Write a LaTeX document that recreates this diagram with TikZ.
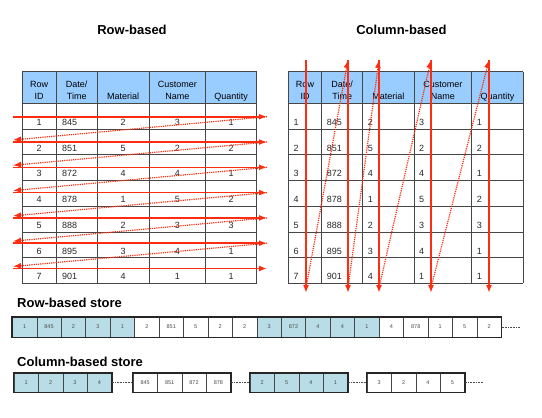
\documentclass[tikz,border=0pt]{standalone}
\usepackage{fontspec}
\setmainfont{Liberation Sans}
\usetikzlibrary{arrows.meta}
\definecolor{hdrblue}{RGB}{153,204,255}
\definecolor{store0}{RGB}{184,221,230}
\definecolor{store1}{RGB}{255,255,255}
\definecolor{arrowred}{RGB}{255,45,15}
\definecolor{linegray}{RGB}{70,70,70}

\begin{document}
\begin{tikzpicture}[x=1pt,y=-1pt,
    ttl/.style    = {font=\fontsize{13}{15}\selectfont\bfseries,anchor=base,inner sep=0},
    storelbl/.style = {font=\fontsize{13}{15}\selectfont\bfseries,anchor=base west,inner sep=0},
    hdr/.style    = {font=\fontsize{9}{12}\selectfont,align=center,anchor=north,inner sep=0,execute at begin node=\strut},
    hdrone/.style = {font=\fontsize{9}{12}\selectfont,anchor=base,inner sep=0},
    val/.style    = {font=\fontsize{9}{11}\selectfont,inner sep=0,text=black!85},
    tabline/.style = {draw=linegray,line width=0.8pt},
    scan/.style   = {draw=arrowred,line width=1.6pt,-{Latex[length=8pt,width=6pt]}},
    jump/.style   = {draw=arrowred,line width=1.2pt,densely dotted,-{Latex[length=8pt,width=6pt]}},
    sbox/.style   = {draw=linegray,line width=0.5pt,minimum width=24.45pt,inner sep=0,font=\fontsize{5.5}{6}\selectfont,text=black!70},
    outline/.style = {draw=black!85,line width=1.5pt},
    tail/.style   = {draw=black!70,line width=0.6pt,densely dotted}
  ]
  \useasboundingbox (0,0) rectangle (542,418);

  \node[ttl] (rowtitle) at (132,34.3) {Row-based};
  \node[ttl] (coltitle) at (401.5,34.3) {Column-based};

  % tables
  \fill[hdrblue] (22.3,71.7) rectangle (256.7,103.3);
  \fill[hdrblue] (288.3,71.7) rectangle (523.3,103.3);
  \foreach \x in {22.3,56,97.3,149,205.7,256.7}
    \draw[tabline] (\x,71.7) -- (\x,283.3);
  \foreach \x in {288.3,321.7,362.7,414,471.7,523.3}
    \draw[tabline] (\x,71.7) -- (\x,283.3);
  \foreach \y in {71.7,103.3,129,154.7,180.4,206.1,231.9,257.6,283.3} {
    \draw[tabline] (22.3,\y) -- (256.7,\y);
    \draw[tabline] (288.3,\y) -- (523.3,\y);
  }

  \foreach \cx/\lbl [count=\i] in {39.2/{Row\\ID}, 76.7/{Date/\\Time}, 177.4/{Customer\\Name}}
    \node[hdr] (rh\i) at (\cx,81.2) {\lbl};
  \foreach \cx/\lbl [count=\i] in {305/{Row\\ID}, 342.2/{Date/\\Time}, 442.9/{Customer\\Name}}
    \node[hdr] (ch\i) at (\cx,81.2) {\lbl};
  \node[hdrone] (rhmat) at (123.2,99.3) {Material};
  \node[hdrone] (rhqty) at (231.2,99.3) {Quantity};
  \node[hdrone] (chmat) at (388.4,99.3) {Material};
  \node[hdrone] (chqty) at (497.5,99.3) {Quantity};

  \foreach \a/\b/\c/\d/\e [count=\r, evaluate=\r as \yb using {125.5+25.7*(\r-1)}] in
      {1/845/2/3/1, 2/851/5/2/2, 3/872/4/4/1, 4/878/1/5/2, 5/888/2/3/3, 6/895/3/4/1, 7/901/4/1/1} {
    \node[val,anchor=base]      (ra\r) at (39.2,\yb)  {\a};
    \node[val,anchor=base west] (rb\r) at (62,\yb)    {\b};
    \node[val,anchor=base]      (rc\r) at (123.2,\yb) {\c};
    \node[val,anchor=base]      (rd\r) at (177.4,\yb) {\d};
    \node[val,anchor=base]      (re\r) at (231.2,\yb) {\e};
    \node[val,anchor=base west] (ca\r) at (293.3,\yb) {\a};
    \node[val,anchor=base west] (cb\r) at (326.7,\yb) {\b};
    \node[val,anchor=base west] (cc\r) at (367.7,\yb) {\c};
    \node[val,anchor=base west] (cd\r) at (419,\yb)   {\d};
    \node[val,anchor=base west] (ce\r) at (476.7,\yb) {\e};
  }

  % read order
  \foreach \r in {1,...,7} {
    \coordinate (rl\r) at (13,116.7+25.3*\r-25.3);
    \coordinate (rr\r) at (267,116.7+25.3*\r-25.3);
    \draw[scan] (rl\r) -- (rr\r);
  }
  \foreach \r [evaluate=\r as \n using {int(\r+1)}] in {1,...,6}
    \draw[jump] (rr\r) -- ([yshift=2pt]rl\n);

  \foreach \c/\x in {1/306,2/348,3/379,4/431,5/489} {
    \coordinate (ct\c) at (\x,60);
    \coordinate (cbot\c) at (\x,293);
    \draw[scan] (ct\c) -- (cbot\c);
  }
  \foreach \c [evaluate=\c as \n using {int(\c+1)}] in {1,...,4}
    \draw[jump] ([yshift=5pt]cbot\c) -- (ct\n);

  % stores
  \node[storelbl] (rowstore) at (17,307.3) {Row-based store};
  \foreach \v [count=\i, evaluate=\i as \g using {int(mod(floor((\i-1)/5),2))}] in
      {1,845,2,3,1,2,851,5,2,2,3,872,4,4,1,4,878,1,5,2}
    \node[sbox,fill=store\g,minimum height=20pt] (rs\i) at (12.3+24.45*\i-12.2,327) {\v};
  \draw[outline] (rs1.north west) rectangle (rs20.south east);
  \coordinate (rsend) at (520,327);
  \draw[tail] (rs20.east) -- (rsend);

  \node[storelbl] (colstore) at (17,366.7) {Column-based store};
  \foreach \gx/\vals [count=\g, evaluate=\g as \f using {int(mod(\g+1,2))}] in
      {14/{1,2,3,4}, 133/{845,851,872,878}, 250/{2,5,4,1}, 367/{3,2,4,5}} {
    \foreach \v [count=\k] in \vals
      \node[sbox,fill=store\f,minimum height=19pt] (cs\g-\k) at (\gx+24.4*\k-12.2,382.5) {\v};
    \draw[outline] (cs\g-1.north west) rectangle (cs\g-4.south east);
  }
  \foreach \g/\h in {1/2,2/3,3/4}
    \draw[tail] (cs\g-4.east) -- (cs\h-1.west);
  \coordinate (csend) at (483,382.5);
  \draw[tail] (cs4-4.east) -- (csend);

\end{tikzpicture}
\end{document}
